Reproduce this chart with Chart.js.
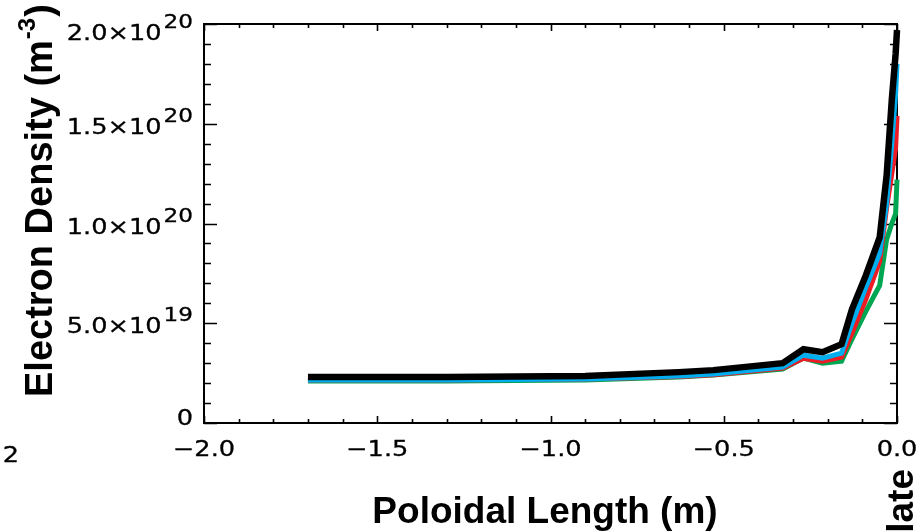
<!DOCTYPE html>
<html>
<head>
<meta charset="utf-8">
<script src="https://cdn.jsdelivr.net/npm/chart.js@4.4.1/dist/chart.umd.min.js"></script>
<style>
  html, body { margin: 0; padding: 0; background: #fff; }
  #wrap { width: 920px; height: 532px; position: relative; }
</style>
</head>
<body>
<div id="wrap"><canvas id="c" width="920" height="532"></canvas></div>
<script>
// poloidal length (m), shared by all four profiles
const poloidalLength = [-1.70, -1.30, -0.90, -0.63, -0.53, -0.33, -0.27, -0.215, -0.16, -0.13, -0.09, -0.05, -0.03, -0.015, -0.004, 0.0];

// electron density (m^-3)
const neBlack = [2.30e19, 2.30e19, 2.35e19, 2.55e19, 2.65e19, 3.00e19, 3.70e19, 3.55e19, 3.95e19, 5.70e19, 7.40e19, 9.30e19, 12.4e19, 16.2e19, 18.5e19, 19.7e19];
const neBlue  = [2.15e19, 2.15e19, 2.20e19, 2.35e19, 2.45e19, 2.80e19, 3.40e19, 3.25e19, 3.50e19, 5.00e19, 6.80e19, 8.50e19, 11.0e19, 14.0e19, 16.5e19, 18.0e19];
const neRed   = [2.15e19, 2.15e19, 2.20e19, 2.33e19, 2.42e19, 2.75e19, 3.25e19, 3.10e19, 3.30e19, 4.50e19, 6.20e19, 8.10e19, 10.8e19, 12.5e19, 13.8e19, 15.4e19];
const neGreen = [2.10e19, 2.10e19, 2.15e19, 2.30e19, 2.40e19, 2.70e19, 3.25e19, 3.00e19, 3.10e19, 4.20e19, 5.60e19, 6.90e19, 9.20e19, 10.0e19, 10.5e19, 12.2e19];

// axis ticks
const xMajorTicks = [-2.0, -1.5, -1.0, -0.5, 0.0];
const xTickLabels = ["\u22122.0", "\u22121.5", "\u22121.0", "\u22120.5", "0.0"];
const yMajorTicks = [0, 5e19, 1e20, 1.5e20, 2e20];
const yTickMantissa = ["0", "5.0\u00d710", "1.0\u00d710", "1.5\u00d710", "2.0\u00d710"];
const yTickExponent = ["", "19", "20", "20", "20"];

function pts(ys) {
  return poloidalLength.map((x, i) => ({ x: x, y: ys[i] }));
}

const SX = 1.22;
function wideText(ctx, text, x, y, align) {
  ctx.save();
  ctx.translate(x, y);
  ctx.scale(SX, 1);
  ctx.textAlign = align;
  ctx.lineWidth = 0.3;
  ctx.strokeStyle = "#000";
  ctx.fillText(text, 0, 0);
  ctx.strokeText(text, 0, 0);
  ctx.restore();
}

const idlAxes = {
  id: "idlAxes",
  beforeDatasetsDraw(chart) {
    const ctx = chart.ctx;
    const a = chart.chartArea;
    const xs = chart.scales.x, ys = chart.scales.y;
    ctx.save();
    ctx.strokeStyle = "#000";
    ctx.lineWidth = 2;
    ctx.strokeRect(a.left, a.top, a.right - a.left, a.bottom - a.top);
    ctx.lineWidth = 1.6;
    ctx.beginPath();
    for (let i = 0; i <= 20; i++) {
      const v = -2 + i * 0.1;
      const px = Math.round(xs.getPixelForValue(v)) + 0.5;
      const len = (i % 5 === 0) ? 7 : 4;
      ctx.moveTo(px, a.bottom); ctx.lineTo(px, a.bottom - len);
      ctx.moveTo(px, a.top); ctx.lineTo(px, a.top + len);
    }
    for (let i = 0; i <= 20; i++) {
      const v = i * 1e19;
      const py = Math.round(ys.getPixelForValue(v)) + 0.5;
      const len = (i % 5 === 0) ? 13 : 7;
      ctx.moveTo(a.left, py); ctx.lineTo(a.left + len, py);
      ctx.moveTo(a.right, py); ctx.lineTo(a.right - len, py);
    }
    ctx.stroke();
    ctx.restore();
  },
  afterDraw(chart) {
    const ctx = chart.ctx;
    const xs = chart.scales.x, ys = chart.scales.y;
    ctx.save();
    ctx.fillStyle = "#000";
    ctx.textBaseline = "alphabetic";

    // x tick labels
    ctx.font = "21px 'DejaVu Sans'";
    xMajorTicks.forEach((v, i) => {
      wideText(ctx, xTickLabels[i], xs.getPixelForValue(v), 456, "center");
    });
    wideText(ctx, "2", 11, 462, "center");

    // y tick labels with superscript exponents
    yMajorTicks.forEach((v, i) => {
      const py = ys.getPixelForValue(v);
      const right = 193;
      if (!yTickExponent[i]) {
        ctx.font = "21px 'DejaVu Sans'";
        wideText(ctx, yTickMantissa[i], right, py + 2, "right");
        return;
      }
      const base = py + (i === yMajorTicks.length - 1 ? 16 : 10);
      ctx.font = "19px 'DejaVu Sans'";
      const ew = ctx.measureText(yTickExponent[i]).width * SX;
      wideText(ctx, yTickExponent[i], right, base - 12, "right");
      ctx.font = "21px 'DejaVu Sans'";
      wideText(ctx, yTickMantissa[i], right - ew - 2, base, "right");
    });

    // x title
    ctx.font = "bold 37px 'Liberation Sans', Arial, sans-serif";
    ctx.textAlign = "center";
    ctx.fillText("Poloidal Length (m)", 545, 523);

    // y title, rotated
    ctx.save();
    ctx.translate(52, 397);
    ctx.rotate(-Math.PI / 2);
    ctx.textAlign = "left";
    ctx.font = "bold 38px 'Liberation Sans', Arial, sans-serif";
    const t1 = "Electron Density (m";
    ctx.fillText(t1, 0, 0);
    let w = ctx.measureText(t1).width;
    ctx.font = "bold 24px 'Liberation Sans', Arial, sans-serif";
    ctx.fillText("-3", w + 1, -17);
    w += ctx.measureText("-3").width + 2;
    ctx.font = "bold 38px 'Liberation Sans', Arial, sans-serif";
    ctx.fillText(")", w, 0);
    ctx.restore();

    // cut-off label at the right edge
    ctx.save();
    ctx.translate(913, 469);
    ctx.rotate(-Math.PI / 2);
    ctx.textAlign = "right";
    ctx.font = "bold 37px 'Liberation Sans', Arial, sans-serif";
    ctx.fillText("Plate", 0, 0);
    ctx.restore();

    ctx.restore();
  }
};

new Chart(document.getElementById("c"), {
  type: "line",
  data: {
    datasets: [
      { label: "black", data: pts(neBlack), borderColor: "#000000", borderWidth: 6.5 },
      { label: "blue", data: pts(neBlue), borderColor: "#00AEEF", borderWidth: 5 },
      { label: "red", data: pts(neRed), borderColor: "#ED1C24", borderWidth: 5 },
      { label: "green", data: pts(neGreen), borderColor: "#00A651", borderWidth: 5 }
    ]
  },
  options: {
    responsive: false,
    animation: false,
    devicePixelRatio: 1,
    layout: { padding: { left: 204, right: 23, top: 24, bottom: 109 } },
    elements: {
      point: { radius: 0 },
      line: { tension: 0, fill: false }
    },
    datasets: { line: { clip: false } },
    plugins: { legend: { display: false }, tooltip: { enabled: false } },
    scales: {
      x: { type: "linear", min: -2, max: 0, display: false },
      y: { type: "linear", min: 0, max: 2e20, display: false }
    }
  },
  plugins: [idlAxes]
});
</script>
</body>
</html>
